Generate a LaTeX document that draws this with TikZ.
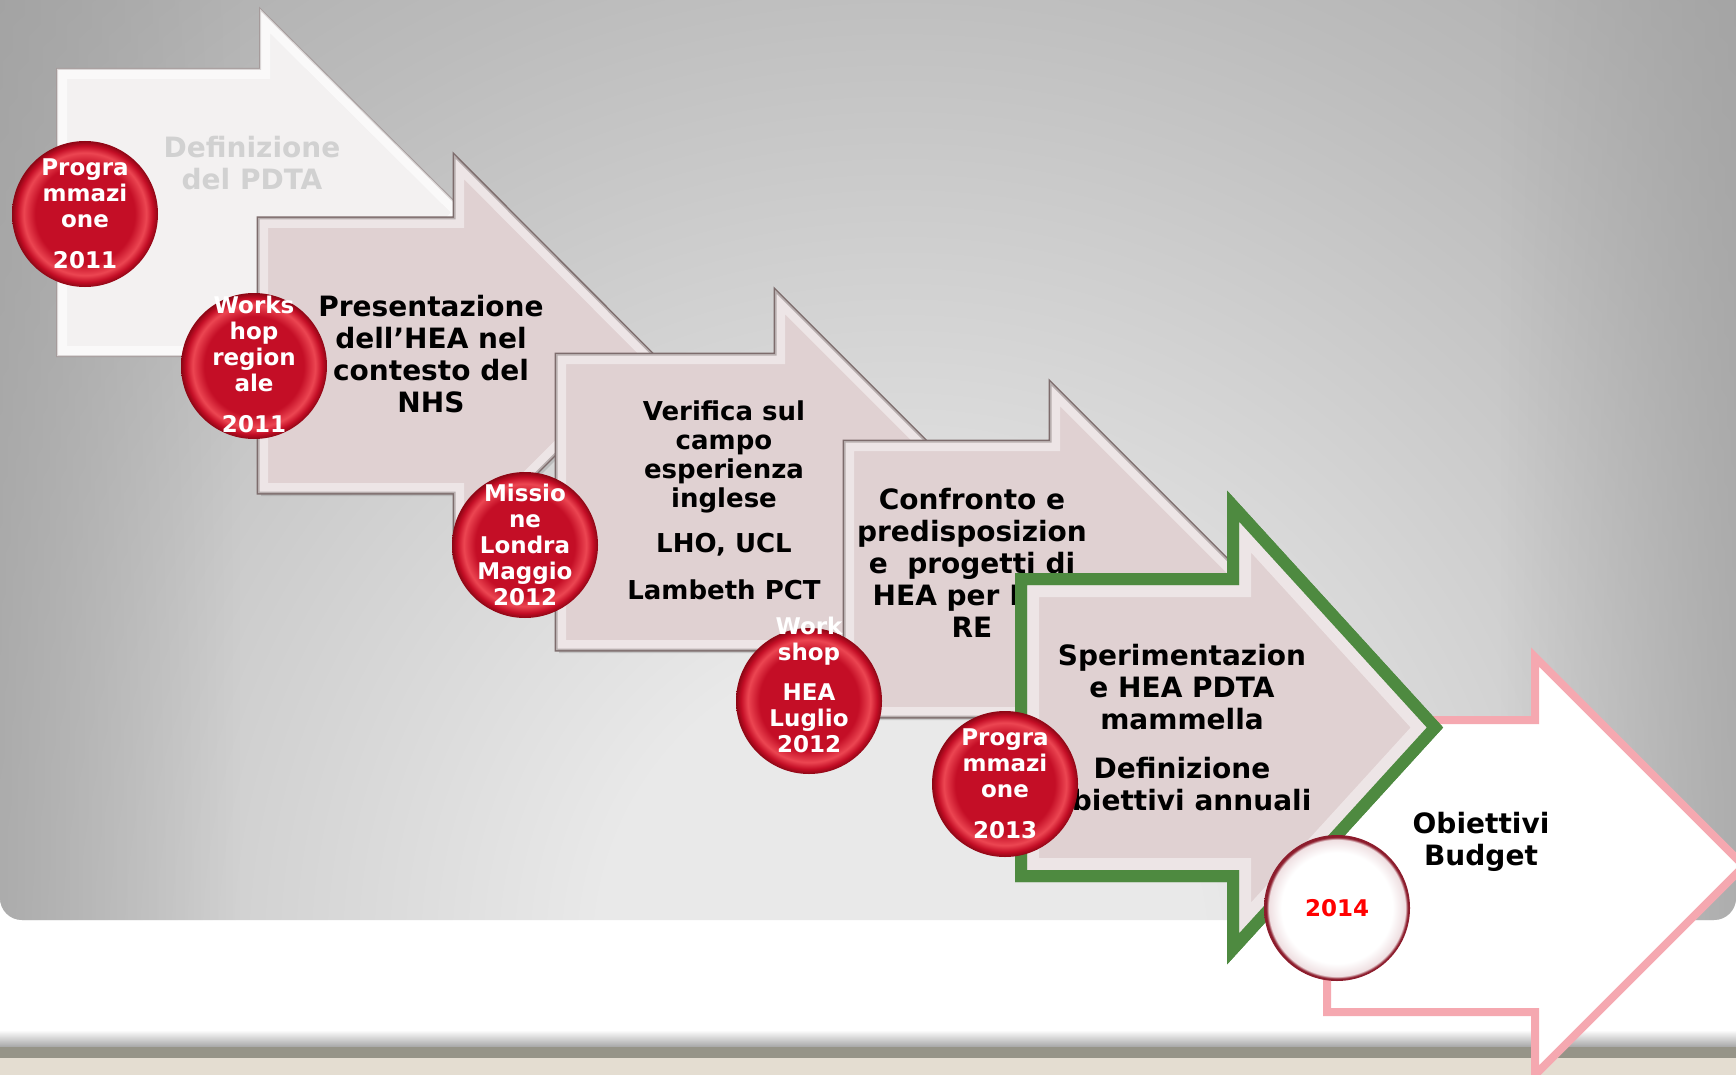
\documentclass[tikz,border=0pt]{standalone}
\usepackage{fontspec}
\setmainfont{DejaVu Sans}
\usetikzlibrary{fadings,shadows}

\definecolor{boxfill}{RGB}{224,209,210}
\definecolor{boxline}{RGB}{125,108,108}
\definecolor{pdtafill}{RGB}{243,241,241}
\definecolor{pdtaline}{RGB}{165,155,155}
\definecolor{stepgreen}{RGB}{78,138,64}
\definecolor{budgetpink}{RGB}{245,168,176}
\definecolor{rbmid}{RGB}{196,14,38}
\definecolor{rblight}{RGB}{236,70,82}
\definecolor{rbdark}{RGB}{140,6,20}
\definecolor{yearred}{RGB}{255,0,0}
\definecolor{rimred}{RGB}{140,28,44}
\definecolor{bglight}{RGB}{233,233,233}
\definecolor{bgmid}{RGB}{188,188,188}
\definecolor{bgdark}{RGB}{166,166,166}
\definecolor{bgedge}{RGB}{160,160,160}
\definecolor{stripe}{RGB}{150,148,136}
\definecolor{beige}{RGB}{228,221,209}

% the path box is the 25bp circle of a radial shading
\pgfdeclareradialshading{redball}{\pgfpoint{0bp}{0bp}}{color(0bp)=(rbmid); color(17bp)=(rbmid); color(21bp)=(rblight); color(23.3bp)=(rbmid); color(25bp)=(rbdark); color(50bp)=(rbdark)}
\pgfdeclareradialshading{whiteball}{\pgfpoint{0bp}{0bp}}{color(0bp)=(white); color(19bp)=(white); color(23.4bp)=(rimred!14); color(24.2bp)=(rimred); color(25bp)=(rimred); color(50bp)=(rimred)}
\pgfdeclareradialshading{panel}{\pgfpoint{0bp}{0bp}}{color(0bp)=(bglight); color(5bp)=(bglight); color(16.7bp)=(bgmid); color(23.3bp)=(bgdark); color(25bp)=(bgdark); color(50bp)=(bgdark)}

\tikzfading[name=fadeleft, left color=transparent!35, right color=transparent!100]
\tikzfading[name=faderight, left color=transparent!100, right color=transparent!35]

\newcommand{\arrowpath}[6]{(#1,#2) -- (#4,#2) -- (#4,#5) -- (#6,{(#2+#3)/2}) -- (#4,{#2+#3-#5}) -- (#4,#3) -- (#1,#3) -- cycle}

\tikzset{
  stepbox/.style={fill=boxfill, draw=boxline, line width=3pt, line join=miter,
    drop shadow={opacity=0.3, shadow xshift=3pt, shadow yshift=-3pt}},
  bevel/.style={draw=white, opacity=0.45, line width=20pt, line join=miter},
  pdtabox/.style={fill=pdtafill, draw=pdtaline, line width=2pt, line join=miter},
  greenbox/.style={fill=boxfill, draw=stepgreen, line width=12pt, line join=miter},
  pinkbox/.style={fill=white, draw=budgetpink, line width=8pt, line join=miter},
  steptext/.style={align=center, inner sep=0pt, text=black,
    font=\fontsize{28}{32}\selectfont\bfseries},
  pdtatext/.style={steptext, text=black!18},
  ball/.style={circle, minimum size=146pt, inner sep=0pt, shading=redball},
  whiteball/.style={circle, minimum size=146pt, inner sep=0pt, shading=whiteball},
  balltext/.style={align=center, inner sep=0pt, text=white,
    font=\fontsize{23}{26}\selectfont\bfseries},
  yeartext/.style={balltext, text=yearred}
}

\begin{document}
\begin{tikzpicture}[x=1pt, y=-1pt]
\useasboundingbox (0,0) rectangle (1736,1075);
\clip (0,0) rectangle (1736,1075);

% background
\fill[white] (0,0) rectangle (1736,1075);
\begin{scope}
  \clip[rounded corners=22pt] (0,-40) rectangle (1736,920);
  \shade[shading=panel] (-600,-550) rectangle (2400,2450);
  \fill[bgedge, path fading=fadeleft] (0,-40) rectangle (240,920);
  \fill[bgedge, path fading=faderight] (1500,-40) rectangle (1736,920);
\end{scope}
\shade[top color=white, bottom color=black!35] (0,1030) rectangle (1736,1047);
\fill[stripe] (0,1047) rectangle (1736,1058);
\fill[beige] (0,1058) rectangle (1736,1075);

% Definizione del PDTA
\draw[pdtabox] \arrowpath{57}{69}{356}{260}{9}{465};
\begin{scope}
  \clip \arrowpath{57}{69}{356}{260}{9}{465};
  \draw[bevel, opacity=0.6] \arrowpath{57}{69}{356}{260}{9}{465};
\end{scope}
\node[pdtatext] (pdta) at (252,163) {Definizione\\del PDTA};
\node[ball] (b1) at (85,214) {};
\node[balltext] (b1t) at (b1) {Progra\\mmazi\\one\\[15pt]2011};

% Presentazione
\draw[stepbox] \arrowpath{258}{218}{493}{454}{155}{654};
\begin{scope}
  \clip \arrowpath{258}{218}{493}{454}{155}{654};
  \draw[bevel] \arrowpath{258}{218}{493}{454}{155}{654};
\end{scope}
\node[steptext] (pres) at (431,354) {Presentazione\\dell’HEA nel\\contesto del\\NHS};
\node[ball] (b2) at (254,366) {};
\node[balltext] (b2t) at (254,364) {Works\\hop\\region\\ale\\[15pt]2011};

% Verifica
\draw[stepbox] \arrowpath{556}{354}{650}{775}{290}{987};
\begin{scope}
  \clip \arrowpath{556}{354}{650}{775}{290}{987};
  \draw[bevel] \arrowpath{556}{354}{650}{775}{290}{987};
\end{scope}
\node[steptext, font=\fontsize{26}{29}\selectfont\bfseries] (ver) at (724,500)
  {Verifica sul\\campo\\esperienza\\inglese\\[16pt]LHO, UCL\\[18pt]Lambeth PCT};
\node[ball] (b3) at (525,545) {};
\node[balltext] (b3t) at (b3) {Missio\\ne\\Londra\\Maggio\\2012};

% Confronto
\draw[stepbox] \arrowpath{844}{441}{717}{1050}{382}{1247};
\begin{scope}
  \clip \arrowpath{844}{441}{717}{1050}{382}{1247};
  \draw[bevel] \arrowpath{844}{441}{717}{1050}{382}{1247};
\end{scope}
\node[steptext] (conf) at (972,563) {Confronto e\\predisposizion\\e~~progetti di\\HEA per B\hphantom{RE}\\RE};
\node[ball] (b4) at (809,701) {};
\node[balltext] (b4t) at (809,685) {Work\\shop\\[14pt]HEA\\Luglio\\2012};

% Obiettivi Budget
\draw[pinkbox] \arrowpath{1327}{720}{1012}{1535}{657}{1744};
\node[steptext] (budg) at (1481,842) {Obiettivi\\Budget};

% Sperimentazione
\draw[greenbox] \arrowpath{1021}{579}{876}{1233}{506}{1435};
\begin{scope}
  \clip \arrowpath{1021}{579}{876}{1233}{506}{1435};
  \draw[bevel, line width=36pt] \arrowpath{1021}{579}{876}{1233}{506}{1435};
\end{scope}
\draw[stepgreen, line width=12pt, line join=miter] \arrowpath{1021}{579}{876}{1233}{506}{1435};
\node[steptext] (sper) at (1182,728) {Sperimentazion\\e HEA PDTA\\mammella\\[17pt]Definizione\\obiettivi annuali};
\node[ball] (b5) at (1005,784) {};
\node[balltext] (b5t) at (b5) {Progra\\mmazi\\one\\[15pt]2013};

\node[whiteball] (b6) at (1337,908) {};
\node[yeartext] (b6t) at (b6) {2014};
\end{tikzpicture}
\end{document}
